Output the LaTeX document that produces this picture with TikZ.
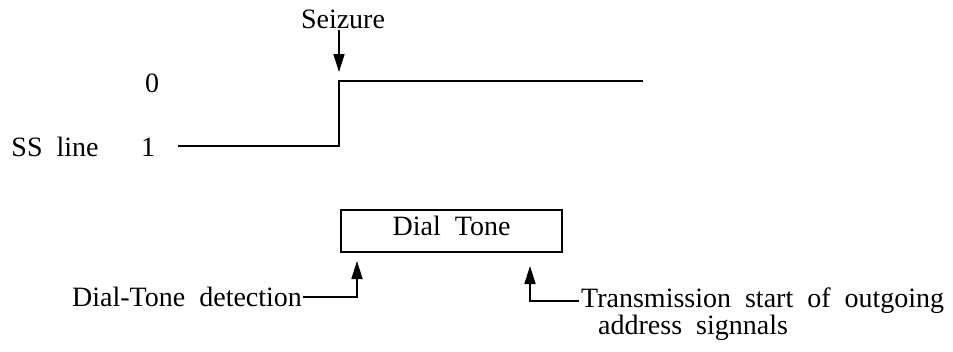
\documentclass[tikz,border=0pt]{standalone}
\usepackage{fontspec}
\setmainfont{Liberation Serif}[WordSpace=2]
\usetikzlibrary{arrows.meta}
\begin{document}
\begin{tikzpicture}[x=1pt,y=-1pt,
  lbl/.style={inner sep=1pt, font=\fontsize{28}{25}\selectfont},
  wire/.style={line width=1.7pt},
  arr/.style={line width=1.7pt, -{Triangle[length=18pt,width=11pt]}}]
\useasboundingbox (0,0) rectangle (953,351);
% signal
\coordinate (s0) at (178,146);
\coordinate (s1) at (339,146);
\coordinate (s2) at (339,81);
\coordinate (s3) at (643,81);
\draw[wire] (s0) -- (s1) -- (s2) -- (s3);
\node[lbl] (zero) at (152,83) {0};
\node[lbl] (one) at (148,147) {1};
\node[lbl] (ss) at (55,147) {SS line};
% seizure
\node[lbl] (seiz) at (343,19) {Seizure};
\coordinate (seizTip) at (339,72);
\draw[arr] (seiz.south -| seizTip) -- (seizTip);
% box
\node[draw, line width=1.7pt, minimum width=221pt, minimum height=42pt,
      text height=18.5pt, text depth=10pt, inner sep=0pt,
      font=\fontsize{28}{25}\selectfont] (box) at (451.5,231) {Dial Tone};
% dial tone detection
\node[lbl, anchor=west] (dtd) at (71,297) {Dial-Tone detection};
\coordinate (dtdTip) at (357,261);
\draw[arr] (dtd.east) -| (dtdTip);
% transmission start
\node[lbl, inner sep=0pt, anchor=west] (tx1) at (581,301) {Transmission start of outgoing};
\node[lbl, inner sep=0pt, anchor=west] (tx2) at (598,328) {address signnals};
\coordinate (txTip) at (530,266);
\draw[arr] ([xshift=-2pt]tx1.west) -| (txTip);
\end{tikzpicture}
\end{document}
